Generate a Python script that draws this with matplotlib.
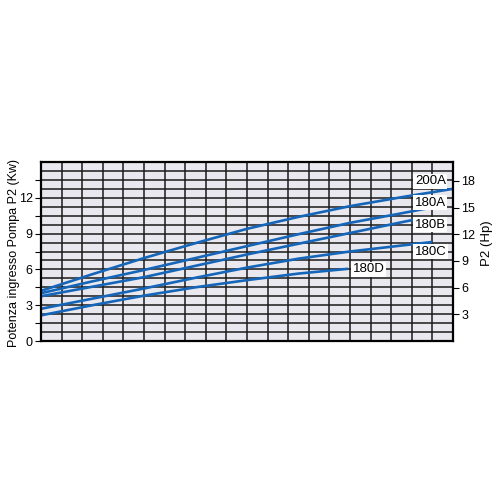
import numpy as np
import matplotlib
matplotlib.use('Agg')
import matplotlib.pyplot as plt
from matplotlib.ticker import FixedLocator, NullFormatter

plt.rcParams['font.family'] = ['Liberation Sans', 'DejaVu Sans']

# curve data (x = grid column, y = kW)
x_200A = [0, 2.5, 5, 7.5, 10, 12.5, 15, 17.5, 20]
y_200A = [4.2, 5.6, 6.95, 8.2, 9.4, 10.4, 11.3, 12.05, 12.75]
x_180A = [0, 2.5, 5, 7.5, 10, 12.5, 15, 17.5, 19]
y_180A = [4.0, 5.0, 5.95, 6.95, 7.95, 8.95, 9.9, 10.7, 11.2]
x_180B = [0, 2.5, 5, 7.5, 10, 12.5, 15, 17.5, 18.5]
y_180B = [3.75, 4.55, 5.35, 6.3, 7.25, 8.15, 9.05, 9.95, 10.3]
x_180C = [0, 2.5, 5, 7.5, 10, 12.5, 15, 17.5, 19]
y_180C = [2.7, 3.55, 4.4, 5.3, 6.15, 6.9, 7.5, 8.0, 8.3]
x_180D = [0, 2.5, 5, 7.5, 10, 12.5, 14.9]
y_180D = [2.15, 3.0, 3.8, 4.5, 5.1, 5.65, 6.05]

curves = [(x_200A, y_200A), (x_180A, y_180A), (x_180B, y_180B),
          (x_180C, y_180C), (x_180D, y_180D)]
labels = ['200A', '180A', '180B', '180C', '180D']
label_pos = [(18.9, 13.4), (18.9, 11.6), (18.9, 9.75), (18.9, 7.5), (15.9, 6.0)]

kw_ticks = [0, 3, 6, 9, 12]
kw_minor = [1.5, 4.5, 7.5, 10.5, 13.5]
hp_ticks = [3, 6, 9, 12, 15, 18]

KW_TO_HP = 1.341
blue = '#1565b8'

fig = plt.figure(figsize=(5, 5), dpi=100)
ax = fig.add_axes([0.082, 0.318, 0.824, 0.358])
ax.set_facecolor('#e8e8ee')
ax.set_xlim(0, 20)
ax.set_ylim(0, 15)

# grid
for gx in np.arange(1, 20):
    ax.axvline(gx, color='#1a1a1a', lw=1.1, zorder=1)
for gy in np.arange(0.75, 15, 0.75):
    ax.axhline(gy, color='#1a1a1a', lw=1.1, zorder=1)

for (xs, ys) in curves:
    ax.plot(xs, ys, color=blue, lw=1.9, zorder=3, solid_capstyle='butt')

for lab, (lx, ly) in zip(labels, label_pos):
    ax.text(lx, ly, lab, ha='center', va='center', fontsize=9.5, zorder=4,
            bbox=dict(facecolor='white', edgecolor='none', pad=1.0))

ax.set_xticks([])
ax.yaxis.set_major_locator(FixedLocator(kw_ticks))
ax.yaxis.set_minor_locator(FixedLocator(kw_minor))
ax.yaxis.set_minor_formatter(NullFormatter())
ax.tick_params(axis='y', which='both', direction='out', length=4, width=0.8,
               labelsize=9, pad=2)
ax.set_ylabel('Potenza ingresso Pompa P2 (Kw)', fontsize=9)
ax.yaxis.set_label_coords(-0.052, 0.49)
for s in ax.spines.values():
    s.set_linewidth(1.6)
    s.set_zorder(5)

ax2 = ax.twinx()
ax2.set_ylim(0, 15 * KW_TO_HP)
ax2.set_yticks(hp_ticks)
ax2.tick_params(axis='y', direction='out', length=4, width=0.8,
                labelsize=9, pad=2)
ax2.set_ylabel('P2 (Hp)', fontsize=9.5)
ax2.yaxis.set_label_coords(1.068, 0.547)
for s in ax2.spines.values():
    s.set_visible(False)

fig.savefig('out.png', dpi=100, facecolor='white')
